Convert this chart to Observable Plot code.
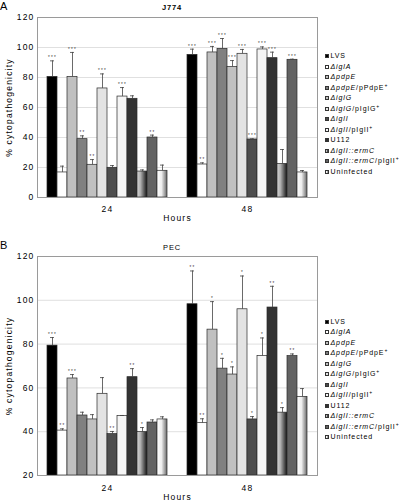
<!DOCTYPE html>
<html>
<head>
<meta charset="utf-8">
<script src="https://cdn.jsdelivr.net/npm/d3@7"></script>
<script src="https://cdn.jsdelivr.net/npm/@observablehq/plot@0.6"></script>
<style>
  body { margin: 0; background: #fff; }
  #wrap { position: relative; width: 400px; height: 503px; font-family: "Liberation Sans", Arial, sans-serif; color: #000; overflow: hidden; }
  .abs { position: absolute; }
  .panel-letter { font-size: 11px; left: 0; line-height: 12px; }
  .title { font-size: 7.5px; letter-spacing: 0.8px; width: 80px; text-align: center; left: 132px; }
  .leg { position: absolute; left: 325px; font-size: 7px; letter-spacing: 0.9px; white-space: nowrap; line-height: 9px; }
  .sw { display: inline-block; width: 4px; height: 4px; border: 0.8px solid #333; margin-right: 1.5px; vertical-align: 0px; box-sizing: border-box; }
  .leg sup { font-size: 5px; vertical-align: 3px; line-height: 0; }
</style>
</head>
<body>
<svg width="0" height="0" style="position:absolute">
  <defs>
    <linearGradient id="gErm" x1="0" x2="1" y1="0" y2="0">
      <stop offset="0%" stop-color="#d6d6d6"/>
      <stop offset="35%" stop-color="#b0b0b0"/>
      <stop offset="100%" stop-color="#141414"/>
    </linearGradient>
    <linearGradient id="gUn" x1="0" x2="1" y1="0" y2="0">
      <stop offset="0%" stop-color="#ffffff"/>
      <stop offset="45%" stop-color="#eeeeee"/>
      <stop offset="100%" stop-color="#6a6a6a"/>
    </linearGradient>
  </defs>
</svg>
<div id="wrap">
  <div class="abs panel-letter" style="top:0px">A</div>
  <div class="abs title" style="top:3px;font-weight:bold">J774</div>
  <div class="abs panel-letter" style="top:239px">B</div>
  <div class="abs title" style="top:243px">PEC</div>
  <div id="pa" class="abs" style="left:0;top:0"></div>
  <div id="pb" class="abs" style="left:0;top:240px"></div>
</div>
<script>
// ---- data ----
const series = ["LVS","ΔiglA","ΔpdpE","ΔpdpE/pPdpE+","ΔiglG","ΔiglG/pIglG+","ΔiglI","ΔiglI/pIglI+","U112","ΔiglI::ermC","ΔiglI::ermC/pIglI+","Uninfected"];
const legendLabels = ["LVS","<i>ΔiglA</i>","<i>ΔpdpE</i>","<i>ΔpdpE</i>/pPdpE<sup>+</sup>","<i>ΔiglG</i>","<i>ΔiglG</i>/pIglG<sup>+</sup>","<i>ΔiglI</i>","<i>ΔiglI</i>/pIglI<sup>+</sup>","U112","<i>ΔiglI::ermC</i>","<i>ΔiglI::ermC</i>/pIglI<sup>+</sup>","Uninfected"];
const fills = ["#000000","#ffffff","#c0c0c0","#808080","#c0c0c0","#e3e3e3","#4d4d4d","#f5f5f5","#333333","url(#gErm)","#636363","url(#gUn)"];
const hours = ["24","48"];

const j774_24 = [80.4,16.7,80.4,38.9,21.8,72.7,19.8,67.3,65.8,17.3,40.0,17.8];
const j774_24_err = [10.7,4.2,16.3,2.2,3.5,9.7,1.5,6.0,2.0,1.1,1.6,3.8];
const j774_24_sig = ["***","","***","**","**","***","","***","","","**",""];
const j774_48 = [95.1,22.0,96.7,99.1,87.1,95.8,38.7,98.7,92.9,22.4,91.8,16.7];
const j774_48_err = [3.8,1.1,4.0,6.9,4.2,2.9,0.4,1.7,4.0,9.6,0.4,1.3];
const j774_48_sig = ["***","**","***","***","***","***","***","***","***","","***",""];

const pec_24 = [79.3,40.5,64.3,47.4,45.6,57.3,38.9,47.2,64.9,39.8,44.2,45.6];
const pec_24_err = [3.7,0.8,1.8,1.5,2.2,7.4,1.2,0.2,3.9,2.1,1.2,1.2];
const pec_24_sig = ["***","**","***","","","","**","","**","*","",""];
const pec_48 = [98.2,43.9,86.6,68.8,66.1,95.9,45.6,74.6,96.7,48.7,74.5,55.9];
const pec_48_err = [15.2,2.0,12.8,4.7,3.5,15.2,1.3,8.2,9.7,2.3,1.0,3.8];
const pec_48_sig = ["**","**","*","*","*","*","*","*","**","*","**",""];

const j774Ticks = [0,20,40,60,80,100,120];
const pecTicks = [20,40,60,80,100,120];

function rows(v24, e24, s24, v48, e48, s48) {
  const out = [];
  [[v24,e24,s24],[v48,e48,s48]].forEach(([v,e,s], h) => {
    series.forEach((name, i) => out.push({hour: hours[h], series: name, value: v[i], err: e[i], sig: s[i]}));
  });
  return out;
}

function panel(data, ticks, height, marginTop, marginBottom, fxPad, hoursOffset) {
  const y0 = ticks[0];
  const top = d => d.value + d.err;
  const frameMark = (() => {
    try { return Plot.frame({stroke: "#9a9a9a", facet: "super"}); } catch (e) { return Plot.frame({stroke: "#9a9a9a"}); }
  })();
  return Plot.plot({
    width: 400, height, marginLeft: 36, marginRight: 83, marginTop, marginBottom,
    style: {fontFamily: "'Liberation Sans', Arial, sans-serif", fontSize: "8.5px", letterSpacing: "1.2px", background: "transparent", overflow: "visible"},
    fx: {domain: hours, padding: 0},
    x: {domain: series, paddingInner: 0, paddingOuter: 0.8, axis: null},
    y: {domain: [ticks[0], ticks[ticks.length - 1]]},
    color: {domain: series, range: fills},
    marks: [
      Plot.gridY(ticks, {stroke: "#d8d8d8", strokeOpacity: 1, strokeWidth: 0.8}),
      Plot.barY(data, {fx: "hour", x: "series", y1: y0, y2: "value", fill: "series", stroke: "#2a2a2a", strokeWidth: 0.7}),
      Plot.ruleX(data, {fx: "hour", x: "series", y1: "value", y2: top, stroke: "#444", strokeWidth: 0.8}),
      Plot.tickY(data, {fx: "hour", x: "series", y: top, stroke: "#444", strokeWidth: 0.8, insetLeft: 3, insetRight: 3}),
      Plot.text(data, {fx: "hour", x: "series", y: top, text: "sig", dy: -3, fontSize: 4.5, fill: "#333"}),
      Plot.axisY(ticks, {tickSize: 0, tickPadding: 3, label: "% cytopathogenicity", labelAnchor: "center", labelOffset: 32, labelArrow: "none"}),
      Plot.axisFx({anchor: "bottom", tickSize: 0, tickPadding: fxPad, label: "Hours", labelAnchor: "center", labelOffset: hoursOffset, labelArrow: "none"}),
      frameMark
    ]
  });
}

function legend(parent, topFirst, step) {
  legendLabels.forEach((lab, i) => {
    const div = document.createElement("div");
    div.className = "leg";
    div.style.top = (topFirst + i * step - 4.5) + "px";
    const sw = document.createElement("span");
    sw.className = "sw";
    sw.style.background = fills[i].startsWith("url") ? (i === 9 ? "linear-gradient(to right,#d6d6d6,#b0b0b0 35%,#141414)" : "linear-gradient(to right,#fff,#eee 45%,#6a6a6a)") : fills[i];
    div.appendChild(sw);
    const t = document.createElement("span");
    t.innerHTML = lab;
    div.appendChild(t);
    parent.appendChild(div);
  });
}

const wrap = document.getElementById("wrap");
document.getElementById("pa").appendChild(panel(rows(j774_24, j774_24_err, j774_24_sig, j774_48, j774_48_err, j774_48_sig), j774Ticks, 240, 17, 43, 8, 23));
document.getElementById("pb").appendChild(panel(rows(pec_24, pec_24_err, pec_24_sig, pec_48, pec_48_err, pec_48_sig), pecTicks, 263, 16, 28, 9, 24));
legend(wrap, 55.7, 10.5);
legend(wrap, 321, 10.5);
</script>
</body>
</html>
